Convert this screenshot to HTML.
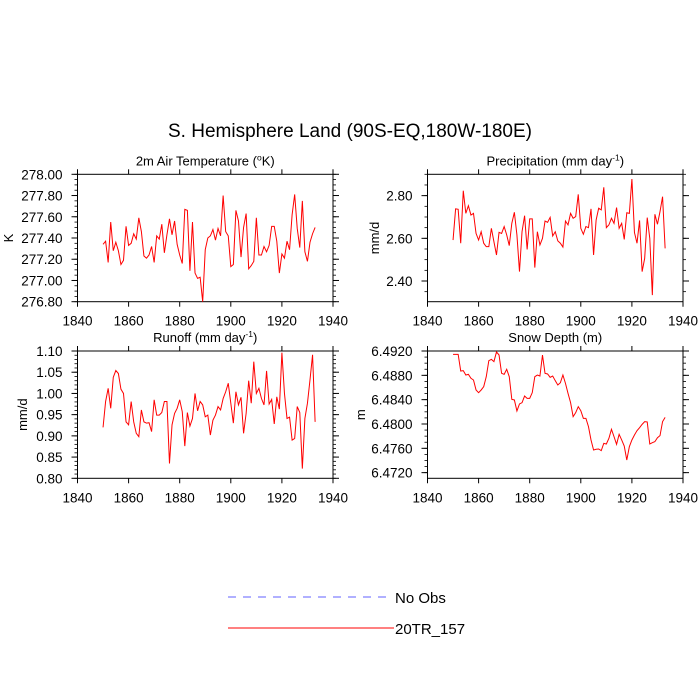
<!DOCTYPE html>
<html><head><meta charset="utf-8"><style>
html,body{margin:0;padding:0;background:#fff}
svg{display:block;font-family:"Liberation Sans",sans-serif}
</style></head><body>
<svg id="c" width="700" height="700" viewBox="0 0 700 700">
<text x="350" y="137" text-anchor="middle" font-size="19">S. Hemisphere Land (90S-EQ,180W-180E)</text>
<g>
<line x1="228" y1="597" x2="386" y2="597" stroke="#6060ff" stroke-width="1" stroke-dasharray="8,7"/>
<text x="395" y="603" font-size="15">No Obs</text>
<line x1="228" y1="628" x2="394" y2="628" stroke="#ff0000" stroke-width="1"/>
<text x="395" y="634" font-size="15">20TR_157</text>
</g>
</svg>
<script>
const startYear = 1850;
const tempValues = [277.34,277.37,277.17,277.55,277.28,277.36,277.28,277.15,277.19,277.51,277.33,277.35,277.44,277.39,277.59,277.46,277.23,277.21,277.24,277.32,277.17,277.42,277.39,277.53,277.26,277.43,277.58,277.43,277.56,277.34,277.24,277.16,277.67,277.66,277.09,277.55,277.07,277.02,277.03,276.80,277.29,277.40,277.42,277.48,277.38,277.49,277.42,277.80,277.46,277.42,277.13,277.15,277.66,277.56,277.22,277.50,277.63,277.11,277.14,277.18,277.59,277.24,277.24,277.32,277.27,277.33,277.51,277.51,277.37,277.07,277.25,277.21,277.37,277.29,277.62,277.81,277.49,277.31,277.75,277.27,277.18,277.36,277.44,277.50];
const precipValues = [2.592,2.738,2.736,2.577,2.823,2.717,2.753,2.709,2.717,2.623,2.592,2.631,2.577,2.561,2.561,2.647,2.584,2.522,2.628,2.623,2.655,2.616,2.566,2.670,2.722,2.616,2.444,2.631,2.706,2.548,2.691,2.691,2.463,2.631,2.569,2.600,2.681,2.675,2.698,2.611,2.631,2.588,2.577,2.559,2.681,2.663,2.717,2.694,2.702,2.806,2.647,2.619,2.655,2.650,2.738,2.522,2.686,2.741,2.733,2.839,2.650,2.663,2.694,2.670,2.744,2.647,2.670,2.595,2.720,2.717,2.878,2.627,2.577,2.684,2.444,2.506,2.697,2.600,2.334,2.713,2.666,2.725,2.795,2.553];
const runoffValues = [0.920,0.981,1.012,0.965,1.038,1.054,1.047,1.010,1.000,0.933,0.926,0.981,0.933,0.906,0.898,0.961,0.933,0.930,0.931,0.910,0.985,0.949,0.949,0.955,0.981,0.981,0.835,0.926,0.953,0.965,0.985,0.957,0.876,0.955,0.923,0.941,1.000,0.959,0.981,0.973,0.945,0.949,0.902,0.937,0.949,0.969,0.961,0.988,1.004,1.024,0.977,0.930,1.004,0.973,0.991,0.906,0.953,1.030,0.977,1.075,1.000,1.012,0.988,0.973,1.053,0.975,0.986,0.928,0.992,0.963,1.096,1.000,0.941,0.944,0.890,0.894,0.969,0.955,0.823,0.941,0.977,1.032,1.091,0.933];
const snowValues = [6.49145,6.49145,6.49145,6.48871,6.48877,6.48805,6.48816,6.48751,6.48723,6.48559,6.48515,6.48559,6.48614,6.48778,6.49041,6.49063,6.49025,6.49184,6.49134,6.48833,6.48816,6.48899,6.48778,6.48405,6.48395,6.48214,6.48329,6.48351,6.48460,6.48422,6.48422,6.48515,6.48778,6.48805,6.48789,6.49134,6.48833,6.48822,6.48767,6.48789,6.48712,6.48641,6.48679,6.48805,6.48668,6.48504,6.48351,6.48120,6.48186,6.48285,6.48219,6.48093,6.48093,6.47956,6.47737,6.47573,6.47584,6.47589,6.47562,6.47682,6.47671,6.47764,6.47912,6.47792,6.47666,6.47830,6.47737,6.47638,6.47408,6.47627,6.47737,6.47819,6.47890,6.47940,6.47994,6.48038,6.48033,6.47671,6.47693,6.47710,6.47775,6.47808,6.48038,6.48109];
const xTickLabels = ["1840","1860","1880","1900","1920","1940"];
const tempTicks = ["276.80","277.00","277.20","277.40","277.60","277.80","278.00"];
const precipTicks = ["2.40","2.60","2.80"];
const runoffTicks = ["0.80","0.85","0.90","0.95","1.00","1.05","1.10"];
const snowTicks = ["6.4720","6.4760","6.4800","6.4840","6.4880","6.4920"];

const NS="http://www.w3.org/2000/svg";
const svg=document.getElementById('c');
function mk(tag,attrs,parent){const e=document.createElementNS(NS,tag);for(const k in attrs)e.setAttribute(k,attrs[k]);(parent||svg).appendChild(e);return e;}

const panels=[
 {id:'temp',title:'2m Air Temperature (',sup:'o',after:'K)',ylab:'K',x0:77.5,x1:333,y0:174.3,y1:301.7,ymin:276.8,ymax:278.0,minor:0.05,ticks:tempTicks,vals:tempValues,labx:4},
 {id:'precip',title:'Precipitation (mm day',sup:'-1',after:')',ylab:'mm/d',x0:427.5,x1:683,y0:174.3,y1:301.7,ymin:2.303,ymax:2.90,minor:0.05,ticks:precipTicks,vals:precipValues,labx:370},
 {id:'runoff',title:'Runoff (mm day',sup:'-1',after:')',ylab:'mm/d',x0:77.5,x1:333,y0:351,y1:478.3,ymin:0.80,ymax:1.10,minor:0.01,ticks:runoffTicks,vals:runoffValues,labx:18},
 {id:'snow',title:'Snow Depth (m)',sup:'',after:'',ylab:'m',x0:427.5,x1:683,y0:351,y1:478.3,ymin:6.47107,ymax:6.4920,minor:0.001,ticks:snowTicks,vals:snowValues,labx:356}
];
panels.forEach(p=>{
 const g=mk('g',{});
 
 
 const xs=v=>p.x0+(v-1840)/100*(p.x1-p.x0);
 const ys=v=>p.y1-(v-p.ymin)/(p.ymax-p.ymin)*(p.y1-p.y0);
 const frame=mk('rect',{x:p.x0,y:p.y0,width:p.x1-p.x0,height:p.y1-p.y0,fill:'none',stroke:'#000','stroke-width':1},g);
 
 
 xTickLabels.forEach(t=>{const x=xs(+t);
  mk('line',{x1:x,y1:p.y1,x2:x,y2:p.y1+5,stroke:'#000'},g);
  mk('line',{x1:x,y1:p.y0,x2:x,y2:p.y0-5,stroke:'#000'},g);
  const tl=mk('text',{x:x,y:p.y1+24,'text-anchor':'middle','font-size':13.5},g);tl.textContent=t;
  
  
 });
 const start=Math.ceil(p.ymin/p.minor-1e-6);
 for(let k=start;k*p.minor<=p.ymax+1e-9;k++){const y=ys(k*p.minor);
  mk('line',{x1:p.x0,y1:y,x2:p.x0-3,y2:y,stroke:'#000','stroke-width':0.8},g);
  mk('line',{x1:p.x1,y1:y,x2:p.x1+3,y2:y,stroke:'#000','stroke-width':0.8},g);}
 p.ticks.forEach(t=>{const y=ys(+t);
  mk('line',{x1:p.x0,y1:y,x2:p.x0-6,y2:y,stroke:'#000'},g);
  mk('line',{x1:p.x1,y1:y,x2:p.x1+6,y2:y,stroke:'#000'},g);
  const tl=mk('text',{x:p.x0-15,y:y+5,'text-anchor':'end','font-size':13.5},g);tl.textContent=t;
  
  
 });
 const ttl=mk('text',{x:(p.x0+p.x1)/2,y:p.y0-9,'text-anchor':'middle','font-size':13},g);
 
 
 ttl.appendChild(document.createTextNode(p.title));
 if(p.sup){const s=mk('tspan',{'font-size':8.5,dy:-5},ttl);s.textContent=p.sup;const a=mk('tspan',{'font-size':13,dy:5},ttl);a.textContent=p.after;}
 const yl=mk('text',{x:0,y:0,'text-anchor':'middle','font-size':13,transform:`translate(${p.labx+9},${(p.y0+p.y1)/2}) rotate(-90)`},g);
 yl.textContent=p.ylab;
 
 
 const pts=p.vals.map((v,i)=>xs(startYear+i).toFixed(2)+','+ys(v).toFixed(2)).join(' ');
 const line=mk('polyline',{points:pts,fill:'none',stroke:'#ff0000','stroke-width':1},g);
 
 
});
</script>
</body></html>
